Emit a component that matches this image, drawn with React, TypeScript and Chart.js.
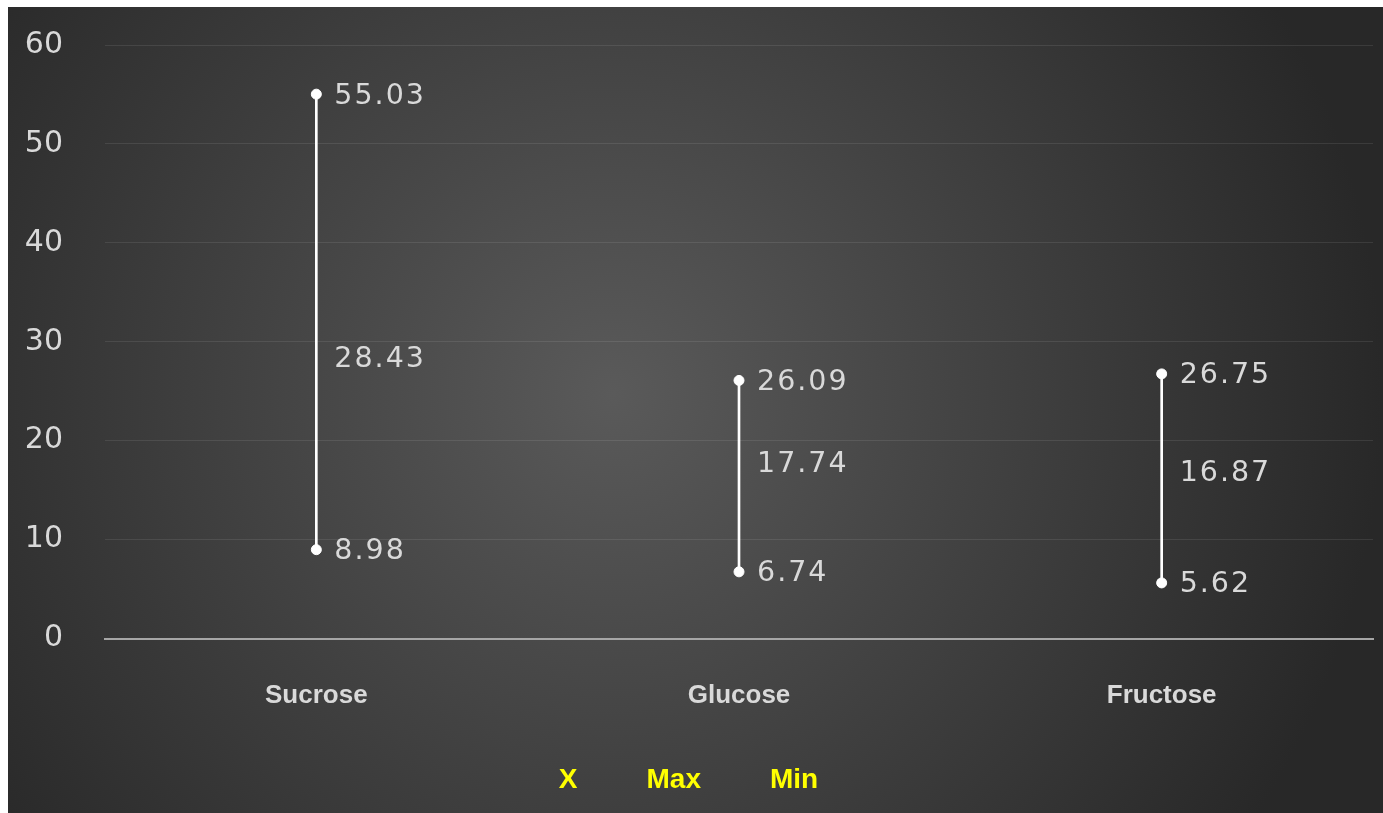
import React, { useEffect, useRef } from "react";
import { Chart, registerables } from "chart.js";

Chart.register(...registerables);

const categories = ["Sucrose", "Glucose", "Fructose"];
const maxValues = [55.03, 26.09, 26.75];
const meanValues = [28.43, 17.74, 16.87];
const minValues = [8.98, 6.74, 5.62];
const yTicks = [0, 10, 20, 30, 40, 50, 60];
const seriesNames = ["X", "Max", "Min"];

const bgPlugin = {
  id: "radialBg",
  beforeDraw(chart: any) {
    const { ctx, width, height } = chart;
    ctx.save();
    const cx = width * 0.44;
    const cy = height * 0.48;
    const g = ctx.createRadialGradient(cx, cy, 0, cx, cy, width * 0.56);
    g.addColorStop(0, "#5a5a5a");
    g.addColorStop(1, "#282828");
    ctx.fillStyle = g;
    ctx.fillRect(0, 0, width, height);
    ctx.restore();
  },
};

const valueLabelPlugin = {
  id: "valueLabels",
  afterDatasetsDraw(chart: any) {
    const ctx = chart.ctx;
    ctx.save();
    ctx.font = "28.5px 'DejaVu Sans'";
    (ctx as any).letterSpacing = "2px";
    ctx.fillStyle = "#d9d9d9";
    ctx.textAlign = "left";
    ctx.textBaseline = "middle";
    chart.data.datasets.forEach((ds: any, di: number) => {
      if (!ds.showValues) return;
      const meta = chart.getDatasetMeta(di);
      meta.data.forEach((el: any, i: number) => {
        const v = ds.data[i] as number;
        ctx.fillText(v.toFixed(2), el.x + 18, el.y + 2);
      });
    });
    ctx.restore();
  },
};

export default function App() {
  const ref = useRef<HTMLCanvasElement>(null);

  useEffect(() => {
    if (!ref.current) return;
    const chart = new Chart(ref.current, {
      type: "bar",
      data: {
        labels: categories,
        datasets: [
          {
            type: "bar",
            label: "range",
            data: categories.map((_, i) => [minValues[i], maxValues[i]]) as any,
            backgroundColor: "#ffffff",
            borderWidth: 0,
            barThickness: 2,
            order: 5,
          } as any,
          {
            type: "line",
            label: seriesNames[0],
            data: meanValues,
            showLine: false,
            pointRadius: 0,
            pointHoverRadius: 0,
            showValues: true,
            order: 1,
          } as any,
          {
            type: "line",
            label: seriesNames[1],
            data: maxValues,
            showLine: false,
            pointRadius: 5,
            pointBorderWidth: 1,
            pointBackgroundColor: "#ffffff",
            pointBorderColor: "#ffffff",
            showValues: true,
            order: 1,
          } as any,
          {
            type: "line",
            label: seriesNames[2],
            data: minValues,
            showLine: false,
            pointRadius: 5,
            pointBorderWidth: 1,
            pointBackgroundColor: "#ffffff",
            pointBorderColor: "#ffffff",
            showValues: true,
            order: 1,
          } as any,
        ],
      },
      options: {
        animation: false,
        responsive: true,
        maintainAspectRatio: false,
        layout: { padding: { top: 38, right: 0, bottom: 8.5, left: 0 } },
        plugins: {
          tooltip: { enabled: false },
          legend: {
            position: "bottom",
            rtl: true,
            reverse: true,
            labels: {
              boxWidth: 0,
              boxHeight: 1,
              padding: 55,
              color: "#ffff00",
              font: { family: "'Liberation Sans'", weight: "bold", size: 28 },
              generateLabels: (c: any) =>
                c.data.datasets
                  .map((ds: any, i: number) => ({
                    text: ds.label,
                    fillStyle: "rgba(0,0,0,0)",
                    strokeStyle: "rgba(0,0,0,0)",
                    lineWidth: 0,
                    hidden: false,
                    datasetIndex: i,
                    fontColor: "#ffff00",
                  }))
                  .filter((it: any) => seriesNames.includes(it.text)),
            },
          },
        },
        scales: {
          x: {
            grid: { display: false, drawTicks: false },
            border: { display: true, color: "#a6a6a6", width: 2 },
            afterFit: (s: any) => {
              s.height = 73;
              s.paddingRight = 10;
            },
            ticks: {
              padding: 42,
              color: "#d9d9d9",
              font: { family: "'Liberation Sans'", weight: "bold", size: 26 },
            },
          },
          y: {
            min: 0,
            max: 60,
            afterBuildTicks: (s: any) => {
              s.ticks = yTicks.map((v) => ({ value: v }));
            },
            afterFit: (s: any) => {
              s.width = 97;
              s.paddingTop = 0;
              s.paddingBottom = 0;
            },
            grid: { color: "rgba(255,255,255,0.09)", drawTicks: false, lineWidth: 1 },
            border: { display: false },
            ticks: {
              padding: 42,
              color: "#d9d9d9",
              font: { family: "'DejaVu Sans'", size: 30 },
            },
          },
        },
      },
      plugins: [bgPlugin, valueLabelPlugin],
    } as any);
    return () => chart.destroy();
  }, []);

  return (
    <div style={{ position: "fixed", left: 8, top: 7, width: 1375, height: 806 }}>
      <canvas ref={ref} />
    </div>
  );
}
